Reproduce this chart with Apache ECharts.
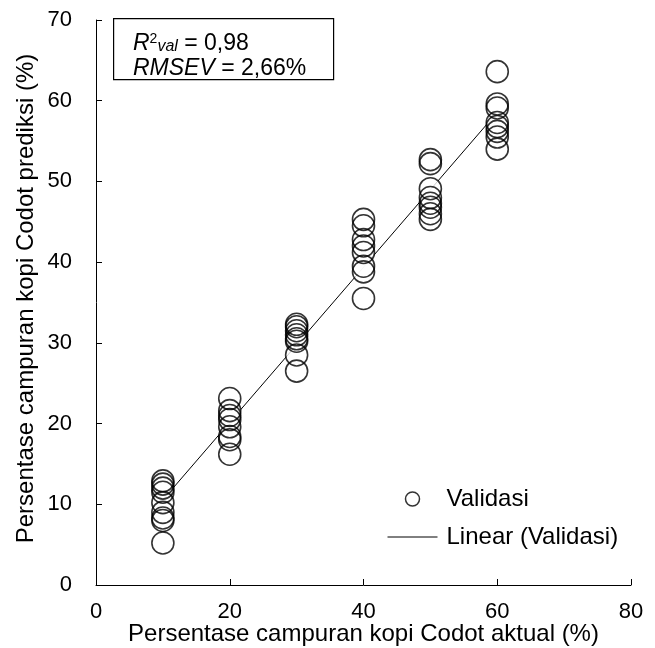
<!DOCTYPE html>
<html>
<head>
<meta charset="utf-8">
<script src="https://cdn.jsdelivr.net/npm/echarts@6/dist/echarts.min.js"></script>
<style>
  html, body { margin: 0; padding: 0; background: #fff; }
  #chart { width: 655px; height: 648px; }
</style>
</head>
<body>
<div id="chart"></div>
<script>
// Actual blend levels (%) and predicted values for the validation set
const levels = [10, 20, 30, 40, 50, 60];
const pred10 = [12.9, 12.5, 12.0, 11.5, 10.2, 9.0, 8.3, 8.0, 5.2];
const pred20 = [23.1, 21.6, 21.0, 20.5, 19.6, 18.4, 18.0, 16.2];
const pred30 = [32.3, 32.0, 31.5, 31.0, 30.5, 30.2, 28.5, 26.5];
const pred40 = [45.3, 44.5, 42.8, 42.0, 41.2, 39.5, 38.8, 35.5];
const pred50 = [52.7, 52.2, 49.1, 48.0, 47.3, 46.8, 46.0, 45.3];
const pred60 = [63.6, 59.6, 59.1, 57.3, 56.8, 56.2, 55.5, 54.0];

const xTicks = [0, 20, 40, 60, 80];
const yTicks = [0, 10, 20, 30, 40, 50, 60, 70];

const groups = [pred10, pred20, pred30, pred40, pred50, pred60];
const points = [];
groups.forEach((vals, i) => vals.forEach(v => points.push([levels[i], v])));

// least-squares trendline over the validation points
const n = points.length;
let sx = 0, sy = 0, sxx = 0, sxy = 0;
points.forEach(([x, y]) => { sx += x; sy += y; sxx += x * x; sxy += x * y; });
const slope = (n * sxy - sx * sy) / (n * sxx - sx * sx);
const icpt = (sy - slope * sx) / n;
const xMin = levels[0], xMax = levels[levels.length - 1];
const trend = [[xMin, icpt + slope * xMin], [xMax, icpt + slope * xMax]];

const FONT = 'Liberation Sans, Arial, sans-serif';
const chart = echarts.init(document.getElementById('chart'), null, { renderer: 'canvas' });

chart.setOption({
  animation: false,
  backgroundColor: '#fff',
  grid: { left: 96, right: 24, top: 20, bottom: 63, containLabel: false, outerBoundsMode: 'none' },
  xAxis: {
    type: 'value', min: 0, max: 80, interval: 20,
    name: 'Persentase campuran kopi Codot aktual (%)',
    nameLocation: 'middle', nameGap: 37, nameMoveOverlap: false,
    nameTextStyle: { fontFamily: FONT, fontSize: 24, color: '#000' },
    axisLine: { show: true, lineStyle: { color: '#000', width: 1 } },
    axisTick: { show: true, inside: true, length: 6, lineStyle: { color: '#000' } },
    axisLabel: { fontFamily: FONT, fontSize: 22, color: '#000', margin: 16,
      formatter: v => xTicks.includes(v) ? String(v) : '' },
    splitLine: { show: false }
  },
  yAxis: {
    type: 'value', min: 0, max: 70, interval: 10,
    name: 'Persentase campuran kopi Codot prediksi (%)',
    nameLocation: 'middle', nameGap: 58, nameMoveOverlap: false,
    nameTextStyle: { fontFamily: FONT, fontSize: 24, color: '#000', padding: [0, 0, 0, 8] },
    axisLine: { show: true, lineStyle: { color: '#000', width: 1 } },
    axisTick: { show: true, inside: true, length: 6, lineStyle: { color: '#000' } },
    axisLabel: { fontFamily: FONT, fontSize: 22, color: '#000', margin: 24,
      formatter: v => yTicks.includes(v) ? String(v) : '' },
    splitLine: { show: false }
  },
  legend: {
    orient: 'vertical', left: 387, top: 487, itemGap: 14, padding: 0,
    itemWidth: 50, itemHeight: 14,
    textStyle: { fontFamily: FONT, fontSize: 24, color: '#000', padding: [0, 0, 0, 4] },
    data: [
      { name: 'Validasi', icon: 'circle',
        itemStyle: { color: 'transparent', borderColor: '#000', borderWidth: 1.5 } },
      { name: 'Linear (Validasi)', itemStyle: { opacity: 0 },
        lineStyle: { color: '#000', width: 1 } }
    ]
  },
  series: [
    {
      name: 'Linear (Validasi)', type: 'line', data: trend, z: 1,
      symbol: 'none', lineStyle: { color: '#000', width: 1 }, itemStyle: { color: '#000' }
    },
    {
      // white discs keep the trendline from showing inside the markers
      name: 'mask', type: 'scatter', data: points, z: 2, symbolSize: 22,
      itemStyle: { color: '#fff', borderWidth: 0 }, silent: true
    },
    {
      name: 'Validasi', type: 'scatter', data: points, z: 3, symbolSize: 22,
      itemStyle: { color: 'transparent', borderColor: '#000', borderWidth: 1.6 }
    }
  ],
  graphic: [
    {
      type: 'rect', left: 113, top: 18,
      shape: { width: 220, height: 61 },
      style: { fill: '#fff', stroke: '#000', lineWidth: 1.2 }, z: 10
    },
    {
      type: 'text', left: 133, top: 32, z: 11,
      style: {
        text: '{i|R}{sup|2}{sub|val}{n| = 0,98}',
        rich: {
          i: { fontFamily: FONT, fontSize: 23, fontStyle: 'italic', fill: '#000', verticalAlign: 'bottom' },
          sup: { fontFamily: FONT, fontSize: 14, fill: '#000', verticalAlign: 'top', padding: [0, 0, 8, 0] },
          sub: { fontFamily: FONT, fontSize: 16, fontStyle: 'italic', fill: '#000', verticalAlign: 'bottom', padding: [6, 0, 0, 0] },
          n: { fontFamily: FONT, fontSize: 23, fill: '#000', verticalAlign: 'bottom' }
        }
      }
    },
    {
      type: 'text', left: 133, top: 57, z: 11,
      style: {
        text: '{i|RMSEV}{n| = 2,66%}',
        rich: {
          i: { fontFamily: FONT, fontSize: 23, fontStyle: 'italic', fill: '#000' },
          n: { fontFamily: FONT, fontSize: 23, fill: '#000' }
        }
      }
    }
  ]
});
</script>
</body>
</html>
